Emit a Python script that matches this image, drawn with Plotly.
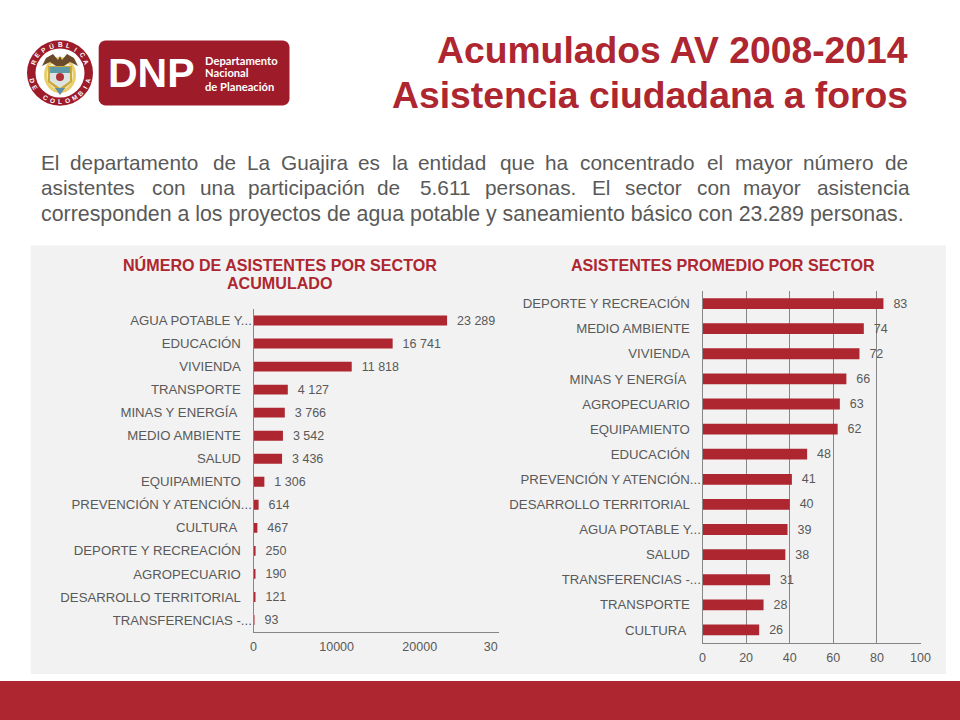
import math
import plotly.graph_objects as go

# ---------- data ----------
sector_left = ["AGUA POTABLE Y...", "EDUCACIÓN", "VIVIENDA", "TRANSPORTE", "MINAS Y ENERGÍA", "MEDIO AMBIENTE",
               "SALUD", "EQUIPAMIENTO", "PREVENCIÓN Y ATENCIÓN...", "CULTURA", "DEPORTE Y RECREACIÓN",
               "AGROPECUARIO", "DESARROLLO TERRITORIAL", "TRANSFERENCIAS -..."]
asistentes = [23289, 16741, 11818, 4127, 3766, 3542, 3436, 1306, 614, 467, 250, 190, 121, 93]
sector_right = ["DEPORTE Y RECREACIÓN", "MEDIO AMBIENTE", "VIVIENDA", "MINAS Y ENERGÍA", "AGROPECUARIO",
                "EQUIPAMIENTO", "EDUCACIÓN", "PREVENCIÓN Y ATENCIÓN...", "DESARROLLO TERRITORIAL",
                "AGUA POTABLE Y...", "SALUD", "TRANSFERENCIAS -...", "TRANSPORTE", "CULTURA"]
promedio = [83, 74, 72, 66, 63, 62, 48, 41, 40, 39, 38, 31, 28, 26]
left_ticks = [0, 10000, 20000, 28550]
left_ticktext = ["0", "10000", "20000", "30"]
right_ticks = [0, 20, 40, 60, 80, 100]

title_lines = ["Acumulados AV 2008-2014", "Asistencia ciudadana a foros"]
para_line1 = [("El", 41), ("departamento", 70), ("de", 213), ("La", 247), ("Guajira", 281), ("es", 358), ("la", 392),
              ("entidad", 418), ("que", 500), ("ha", 545), ("concentrado", 580), ("el", 707), ("mayor", 735),
              ("número", 803), ("de", 885)]
para_line2 = [("asistentes", 41), ("con", 152), ("una", 200), ("participación", 248), ("de", 377), ("5.611", 420),
              ("personas.", 485), ("El", 592), ("sector", 625), ("con", 697), ("mayor", 743), ("asistencia", 817)]
para_line3 = "corresponden a los proyectos de agua potable y saneamiento básico con 23.289 personas."

# ---------- style ----------
W, H = 960, 720
RED = "#AE2630"
DARK = "#9E1B2A"
GREY = "#595959"
AXIS = "#868686"
FONT = "Liberation Sans"
TICK = 12.5
CAT = 13.2


def X(p):
    return p / W


def Y(p):
    return 1 - p / H


def pad(names):
    out = []
    for n in names:
        if n.endswith("..."):
            out.append(n)
        elif n in ("MINAS Y ENERGÍA", "CULTURA"):
            out.append(n + "\u00a0\u00a0\u00a0\u00a0")
        else:
            out.append(n + "\u00a0\u00a0\u00a0")
    return out


def fmt(v):
    return "\u00a0\u00a0" + f"{v:,}".replace(",", "\u00a0")


def rect(x0, y0, x1, y1, color, layer="below"):
    return dict(type="rect", xref="paper", yref="paper", x0=X(x0), x1=X(x1), y0=Y(y0), y1=Y(y1),
                fillcolor=color, line_width=0, layer=layer)


def circle(cx, cy, rx, ry, color, layer="above"):
    return dict(type="circle", xref="paper", yref="paper", x0=X(cx - rx), x1=X(cx + rx), y0=Y(cy - ry), y1=Y(cy + ry),
                fillcolor=color, line_width=0, layer=layer)


def path(points, color):
    d = "M " + " L ".join(f"{X(a):.5f},{Y(b):.5f}" for a, b in points) + " Z"
    return dict(type="path", xref="paper", yref="paper", path=d, fillcolor=color, line_width=0, layer="above")


def label(text, x, y, size, color, bold=False, anchor="left", angle=0, family=FONT):
    return dict(text=f"<b>{text}</b>" if bold else text, xref="paper", yref="paper", x=X(x), y=Y(y),
                xanchor=anchor, yanchor="middle", showarrow=False, textangle=angle,
                borderpad=0, borderwidth=0,
                font=dict(family=family, size=size, color=color))


def rounded(x0, y0, x1, y1, r, color):
    pts = []
    for cx, cy, a0 in [(x1 - r, y0 + r, -90), (x1 - r, y1 - r, 0), (x0 + r, y1 - r, 90), (x0 + r, y0 + r, 180)]:
        for k in range(7):
            a = math.radians(a0 + 15 * k)
            pts.append((cx + r * math.cos(a), cy + r * math.sin(a)))
    return path(pts, color)


fig = go.Figure()
fig.add_bar(y=sector_left, x=asistentes, orientation="h", marker=dict(color=RED, line_width=0),
            text=[fmt(v) for v in asistentes], textposition="outside", cliponaxis=False, constraintext="none",
            textfont=dict(family=FONT, size=TICK, color=GREY), xaxis="x", yaxis="y", showlegend=False)
fig.add_bar(y=sector_right, x=promedio, orientation="h", marker=dict(color=RED, line_width=0),
            text=[fmt(v) for v in promedio], textposition="outside", cliponaxis=False, constraintext="none",
            textfont=dict(family=FONT, size=TICK, color=GREY), xaxis="x2", yaxis="y2", showlegend=False)

tick_font = dict(family=FONT, size=TICK, color=GREY)
cat_font = dict(family=FONT, size=CAT, color=GREY)
fig.update_layout(
    width=W, height=H, margin=dict(l=0, r=0, t=0, b=0, autoexpand=False), paper_bgcolor="white",
    plot_bgcolor="rgba(0,0,0,0)", font=dict(family=FONT), bargap=0.57,
    xaxis=dict(domain=[X(253.5), X(498.7)], range=[0, 29500], tickvals=left_ticks, ticktext=left_ticktext,
               showgrid=False, zeroline=False, showline=True, linecolor=AXIS, linewidth=1, ticks="",
               ticklabelstandoff=3, tickfont=tick_font, anchor="y"),
    yaxis=dict(domain=[Y(631.5), Y(309)], autorange="reversed", categoryorder="array", categoryarray=sector_left,
               tickmode="array", tickvals=sector_left, ticktext=pad(sector_left), ticklabelstandoff=-2,
               showgrid=False, zeroline=False, showline=True, linecolor=AXIS, linewidth=1, ticks="",
               tickfont=cat_font, anchor="x"),
    xaxis2=dict(domain=[X(702.5), X(920.5)], range=[0, 100], tickvals=right_ticks,
                showgrid=True, gridcolor=AXIS, gridwidth=1, zeroline=False, showline=True, linecolor=AXIS,
                linewidth=1, ticks="", ticklabelstandoff=3, tickfont=tick_font, anchor="y2"),
    yaxis2=dict(domain=[Y(642.5), Y(291)], autorange="reversed", categoryorder="array", categoryarray=sector_right,
                tickmode="array", tickvals=sector_right, ticktext=pad(sector_right), ticklabelstandoff=-2,
                showgrid=False, zeroline=False, showline=True, linecolor=AXIS, linewidth=1, ticks="",
                tickfont=cat_font, anchor="x2"),
)

shapes = [
    rect(30.7, 245.5, 946, 674, "#F2F2F2"),
    rect(0, 681, 960, 720, RED),
    rounded(98.7, 40.5, 289.5, 105.5, 7, DARK),
    circle(60, 73, 33, 32.7, DARK),
    circle(60, 73, 24.5, 24.5, "white"),
    circle(60, 75, 16, 18, "#E9CE6A"),
    circle(60, 75, 13, 15, "#F6EEC8"),
    path([(42, 66), (46, 58), (53, 54), (58, 60), (60, 56), (62, 60), (67, 54), (74, 58), (78, 66),
          (70, 62), (64, 66), (56, 66), (50, 62)], "#6B4A2C"),
    path([(48, 66), (72, 66), (72, 82), (60, 92), (48, 82)], "#C9A93C"),
    path([(50, 67), (70, 67), (70, 73), (50, 73)], "#5F9AA8"),
    path([(50, 73), (70, 73), (70, 81), (60, 88), (50, 81)], "#DDE3DE"),
    circle(60, 77, 4, 4, "#B0303A"),
    path([(55, 88), (65, 88), (60, 95)], "#5F8CA8"),
]
anns = [
    label(title_lines[0], 908, 50.5, 37.3, RED, bold=True, anchor="right"),
    label(title_lines[1], 908, 95, 37.3, RED, bold=True, anchor="right"),
    label("NÚMERO DE ASISTENTES POR SECTOR", 280, 265, 16.1, RED, bold=True, anchor="center"),
    label("ACUMULADO", 280, 283, 16.1, RED, bold=True, anchor="center"),
    label("ASISTENTES PROMEDIO POR SECTOR", 722.5, 265, 16.1, RED, bold=True, anchor="center"),
    label("DNP", 108, 73, 41, "white", bold=True),
    label("Departamento", 205, 60, 11.2, "white", bold=True, family="Lato"),
    label("Nacional", 205, 73, 11.2, "white", bold=True, family="Lato"),
    label("de Planeación", 205, 86, 11.2, "white", bold=True, family="Lato"),
    label(para_line3, 41, 214, 21.35, GREY),
]
for words, y in ((para_line1, 163), (para_line2, 188)):
    anns += [label(w, x, y, 20.8, GREY) for w, x in words]

# curved seal lettering
for text, a_mid, step, top in (("REPÚBLICA", -90, 17, True), ("DE COLOMBIA", 90, 15, False)):
    n = len(text)
    for i, ch in enumerate(text):
        off = (i - (n - 1) / 2) * step
        a = a_mid + off if top else a_mid - off
        ax = 60 + 28.7 * math.cos(math.radians(a))
        ay = 73 + 28.7 * math.sin(math.radians(a))
        rot = a + 90 if top else a - 90
        anns.append(label(ch, ax, ay, 6.5, "white", bold=True, anchor="center", angle=rot))

fig.update_layout(shapes=shapes, annotations=anns)
fig.write_html("out.html", config=dict(displayModeBar=False),
               post_script="document.body.style.margin='0';document.body.style.overflow='hidden';")
